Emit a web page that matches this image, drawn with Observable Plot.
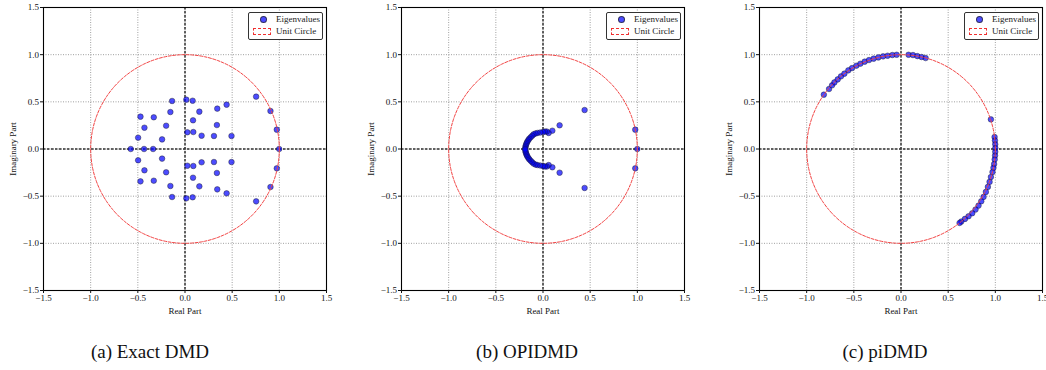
<!DOCTYPE html>
<html>
<head>
<meta charset="utf-8">
<script src="https://cdn.jsdelivr.net/npm/d3@7"></script>
<script src="https://cdn.jsdelivr.net/npm/@observablehq/plot@0.6"></script>
<style>
  html, body { margin: 0; padding: 0; background: #fff; }
  #fig { position: relative; width: 1046px; height: 370px; background: #fff; overflow: hidden; }
  .panel { position: absolute; top: 0; width: 342px; height: 320px; }
  .legend { position: absolute; left: 248px; top: 12px; width: 73px; height: 26px; border: 1px solid #333; border-radius: 2px; background: #fff; font-family: "Liberation Serif", "Times New Roman", "DejaVu Serif", serif; font-size: 9px; color: #222; }
  .legend .dot { position: absolute; width: 5px; height: 5px; border-radius: 50%; background: rgba(0,0,255,0.7); border: 0.6px solid rgba(30,30,30,0.7); }
  .legend .dash { position: absolute; width: 16px; height: 5px; border: 1px dashed #f03030; }
  .legend .txt { position: absolute; white-space: nowrap; }
  .caption { position: absolute; top: 341px; width: 200px; text-align: center; font-family: "Liberation Serif", "Times New Roman", "DejaVu Serif", serif; font-size: 19px; color: #111; }
</style>
</head>
<body>
<div id="fig"></div>
<script>
// ---- data ----
const axisTicks = [-1.5, -1.0, -0.5, 0.0, 0.5, 1.0, 1.5];
const panelCaptions = ["(a) Exact DMD", "(b) OPIDMD", "(c) piDMD"];
const legendLabels = ["Eigenvalues", "Unit Circle"];
const xLabel = "Real Part";
const yLabel = "Imaginary Part";

// (a) Exact DMD eigenvalues
const exactRe = [
  -0.137, 0.014, 0.081, -0.472, -0.331, -0.155, 0.152, 0.342, 0.441, -0.430, -0.200, 0.085, 0.338,
  -0.497, -0.243, 0.025, 0.088, 0.176, 0.307, 0.493, 0.754, 0.906, 0.973,
  -0.575, -0.434, -0.338, 0.998,
  -0.137, 0.014, 0.081, -0.472, -0.331, -0.155, 0.152, 0.342, 0.441, -0.430, -0.200, 0.085, 0.338,
  -0.497, -0.243, 0.025, 0.088, 0.176, 0.307, 0.493, 0.754, 0.906, 0.973
];
const exactIm = [
  0.509, 0.523, 0.512, 0.343, 0.336, 0.392, 0.396, 0.428, 0.470, 0.226, 0.247, 0.304, 0.254,
  0.120, 0.102, 0.177, 0.180, 0.141, 0.138, 0.138, 0.555, 0.403, 0.205,
  0.0, 0.0, 0.0, 0.0,
  -0.509, -0.523, -0.512, -0.343, -0.336, -0.392, -0.396, -0.428, -0.470, -0.226, -0.247, -0.304, -0.254,
  -0.120, -0.102, -0.177, -0.180, -0.141, -0.138, -0.138, -0.555, -0.403, -0.205
];

// (b) OPIDMD eigenvalues
const opiRe = [
  0.441, 0.176, 0.978, 1.000, 0.978, 0.176, 0.441,
  0.099, 0.060, 0.040, 0.020, 0.000, -0.030, -0.060, -0.080, -0.100, -0.115, -0.130, -0.145, -0.155, -0.165, -0.172, -0.178, -0.183, -0.186, -0.188,
  0.099, 0.060, 0.040, 0.020, 0.000, -0.030, -0.060, -0.080, -0.100, -0.115, -0.130, -0.145, -0.155, -0.165, -0.172, -0.178, -0.183, -0.186, -0.188
];
const opiIm = [
  0.413, 0.251, 0.205, 0.000, -0.205, -0.251, -0.413,
  0.194, 0.170, 0.185, 0.185, 0.180, 0.175, 0.170, 0.165, 0.155, 0.140, 0.125, 0.110, 0.095, 0.080, 0.065, 0.050, 0.035, 0.020, 0.005,
  -0.194, -0.170, -0.185, -0.185, -0.180, -0.175, -0.170, -0.165, -0.155, -0.140, -0.125, -0.110, -0.095, -0.080, -0.065, -0.050, -0.035, -0.020, -0.005
];

// (c) piDMD eigenvalues
const piRe = [
  -0.818, -0.763, -0.731, -0.706, -0.671, -0.636, -0.600, -0.558, -0.519, -0.473, -0.431, -0.385, -0.339, -0.290, -0.240, -0.190, -0.142, -0.092, -0.046,
  0.080, 0.127, 0.173, 0.218, 0.261,
  0.953,
  0.992, 0.996, 0.999, 1.000, 0.999, 0.997, 0.993, 0.987, 0.980, 0.970,
  0.953, 0.939, 0.921, 0.900, 0.875, 0.851, 0.822, 0.790, 0.755, 0.716, 0.678, 0.639, 0.621
];
const piIm = [
  0.576, 0.636, 0.675, 0.706, 0.738, 0.770, 0.799, 0.834, 0.858, 0.883, 0.904, 0.926, 0.943, 0.958, 0.971, 0.982, 0.989, 0.996, 0.999,
  0.999, 0.996, 0.985, 0.975, 0.964,
  0.314,
  0.127, 0.090, 0.050, 0.010, -0.030, -0.070, -0.110, -0.160, -0.200, -0.245,
  -0.297, -0.349, -0.402, -0.455, -0.508, -0.554, -0.600, -0.642, -0.681, -0.713, -0.741, -0.769, -0.784
];

// ---- build ----
const seriesList = [
  {re: exactRe, im: exactIm},
  {re: opiRe, im: opiIm},
  {re: piRe, im: piIm}
];
const panelLefts = [0, 358, 716];
const captionCenters = [150, 527, 885];
const serif = '"Liberation Serif", "Times New Roman", "DejaVu Serif", serif';

const unitCircle = d3.range(0, 361, 2).map(a => ({x: Math.cos(a * Math.PI / 180), y: Math.sin(a * Math.PI / 180)}));
const fmt = d3.format(".1f");
const fig = document.getElementById("fig");

seriesList.forEach((s, i) => {
  const pts = s.re.map((r, k) => ({re: r, im: s.im[k]}));
  const chart = Plot.plot({
    width: 342, height: 320,
    marginLeft: 43, marginRight: 16, marginTop: 7, marginBottom: 30,
    style: {fontFamily: serif, fontSize: "9px", color: "#111", background: "transparent"},
    x: {domain: [-1.5, 1.5]},
    y: {domain: [-1.5, 1.5]},
    marks: [
      Plot.gridX(axisTicks, {stroke: "#888", strokeOpacity: 1, strokeWidth: 0.8, strokeDasharray: "1,1.5"}),
      Plot.gridY(axisTicks, {stroke: "#888", strokeOpacity: 1, strokeWidth: 0.8, strokeDasharray: "1,1.5"}),
      Plot.ruleX([0], {stroke: "#333", strokeWidth: 1.5, strokeDasharray: "2.5,1.5"}),
      Plot.ruleY([0], {stroke: "#333", strokeWidth: 1.5, strokeDasharray: "2.5,1.5"}),
      Plot.dot(pts, {x: "re", y: "im", r: 2.8, fill: "blue", fillOpacity: 0.7, stroke: "#1a1a1a", strokeOpacity: 0.7, strokeWidth: 0.6}),
      Plot.line(unitCircle, {x: "x", y: "y", stroke: "#f24444", strokeWidth: 1, strokeDasharray: "3,1.5", curve: "linear"}),
      Plot.frame({stroke: "#000", strokeWidth: 1.1}),
      Plot.axisX(axisTicks, {tickFormat: fmt, tickSize: 3, tickPadding: 1.5, label: xLabel, labelAnchor: "center", labelArrow: "none", labelOffset: 23, fontSize: "9px", fontFamily: serif}),
      Plot.axisY(axisTicks, {tickFormat: fmt, tickSize: 3, tickPadding: 1.5, label: yLabel, labelAnchor: "center", labelArrow: "none", labelOffset: 34, fontSize: "9px", fontFamily: serif})
    ]
  });
  const panel = document.createElement("div");
  panel.className = "panel";
  panel.style.left = panelLefts[i] + "px";
  panel.appendChild(chart);

  const lg = document.createElement("div");
  lg.className = "legend";
  lg.innerHTML =
    '<div class="dot" style="left:11px;top:3px"></div>' +
    '<div class="txt" style="left:27px;top:1px">' + legendLabels[0] + '</div>' +
    '<div class="dash" style="left:4px;top:15px"></div>' +
    '<div class="txt" style="left:27px;top:13px">' + legendLabels[1] + '</div>';
  panel.appendChild(lg);
  fig.appendChild(panel);

  const cap = document.createElement("div");
  cap.className = "caption";
  cap.style.left = (captionCenters[i] - 100) + "px";
  cap.textContent = panelCaptions[i];
  fig.appendChild(cap);
});
</script>
</body>
</html>
